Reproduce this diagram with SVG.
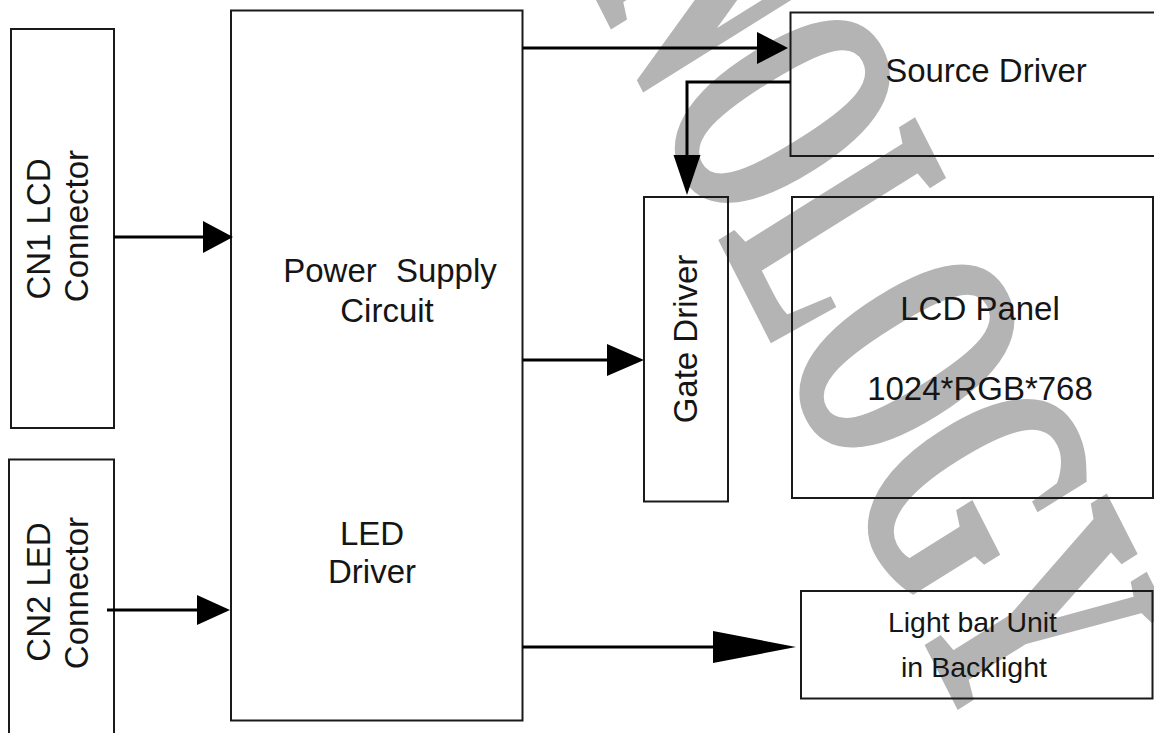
<svg xmlns="http://www.w3.org/2000/svg" width="1154" height="733" viewBox="0 0 1154 733">
<style>
.box{fill:none;stroke:#1a1a1a;stroke-width:2}
.t{font-family:"Liberation Sans",Arial,sans-serif;font-size:33px;fill:#151515;text-anchor:middle}
.s{font-size:28px}
.ln{fill:none;stroke:#000;stroke-width:3}
.ah{fill:#000;stroke:none}
.wm{font-family:"Liberation Serif","Times New Roman",serif;font-size:190px;font-weight:bold;fill:#b4b4b4;stroke:#b4b4b4;stroke-width:4}
</style>
<rect width="1154" height="733" fill="#fff"/>
<g id="watermark">
<text class="wm" transform="rotate(6 1050 630) translate(233,-417) rotate(57) skewX(5) scale(1,1.8)">TECHNOLOGY</text>
</g>
<g id="cn1">
<rect class="box" x="11" y="29" width="103" height="399"/>
<text class="t" x="50" y="229" transform="rotate(-90 50 229)">CN1 LCD</text>
<text class="t" x="88" y="226" transform="rotate(-90 88 226)">Connector</text>
</g>
<g id="cn2">
<rect class="box" x="9" y="459.5" width="105" height="290"/>
<text class="t" x="50" y="592" transform="rotate(-90 50 592)">CN2 LED</text>
<text class="t" x="88" y="593" transform="rotate(-90 88 593)">Connector</text>
</g>
<g id="power">
<rect class="box" x="231" y="10.5" width="291.5" height="710"/>
<text class="t" x="390" y="282" word-spacing="10">Power Supply</text>
<text class="t" x="387" y="322">Circuit</text>
<text class="t" x="372" y="545">LED</text>
<text class="t" x="372" y="583">Driver</text>
</g>
<g id="source">
<rect class="box" x="790.5" y="12.5" width="380" height="143.5"/>
<text class="t" x="986" y="82">Source Driver</text>
</g>
<g id="gate">
<rect class="box" x="644" y="197" width="84" height="304.5"/>
<text class="t" x="697" y="339" transform="rotate(-90 697 339)">Gate Driver</text>
</g>
<g id="lcd">
<rect class="box" x="792" y="197" width="361" height="301"/>
<text class="t" x="980" y="320">LCD Panel</text>
<text class="t" x="980" y="400">1024*RGB*768</text>
</g>
<g id="lightbar">
<rect class="box" x="801" y="591" width="351.5" height="107.5"/>
<text class="t s" x="972.5" y="632" textLength="169" lengthAdjust="spacingAndGlyphs">Light bar Unit</text>
<text class="t s" x="974" y="677" textLength="146" lengthAdjust="spacingAndGlyphs">in Backlight</text>
</g>
<g id="connectors">
<line class="ln" x1="114" y1="237" x2="205" y2="237"/>
<polygon class="ah" points="203,221 233,237 203,253"/>
<line class="ln" x1="107" y1="610" x2="199" y2="610"/>
<polygon class="ah" points="197,595 230,610 197,625"/>
<line class="ln" x1="522.5" y1="48" x2="759" y2="48"/>
<polygon class="ah" points="757,32 788,48 757,64"/>
<line class="ln" x1="522.5" y1="360" x2="609" y2="360"/>
<polygon class="ah" points="607,344 644,360 607,376"/>
<line class="ln" x1="522.5" y1="647" x2="715" y2="647"/>
<polygon class="ah" points="713,631 796,647 713,663"/>
<path class="ln" d="M790.5,82 H687 V157"/>
<polygon class="ah" points="673.5,155 700.5,155 687,195"/>
</g>
</svg>
